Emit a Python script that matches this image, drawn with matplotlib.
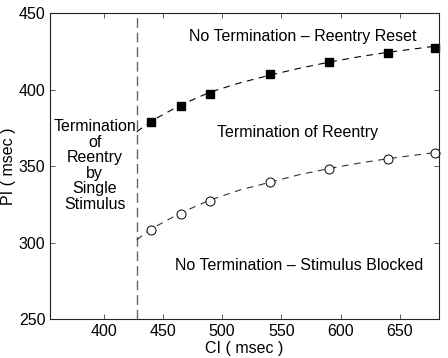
import numpy as np
import matplotlib.pyplot as plt

plt.rcParams['font.family'] = ['Liberation Sans', 'DejaVu Sans']

# measured points
ci = [440, 465, 490, 540, 590, 640, 680]
pi_reset = [379, 389.5, 397.5, 410, 418, 424, 427.5]
pi_blocked = [308.5, 319, 327.5, 340, 348.5, 355, 358.5]

# dashed fit curves
fit_ci = [428, 440, 465, 490, 515, 540, 565, 590, 615, 640, 665, 685]
fit_reset = [372.5, 379.5, 390, 398.5, 404.5, 409.5, 414, 418, 421.5, 424.5, 427, 429]
fit_blocked = [302, 309, 319.5, 328, 334.5, 339.5, 344.5, 348.5, 352, 355, 357.5, 359.5]

ci_threshold = 428

fig = plt.figure(figsize=(4.48, 3.58), dpi=100)
ax = fig.add_axes([0.112, 0.108, 0.868, 0.855])

ax.axvline(ci_threshold, color='#666666', ls=(0, (7, 3.5)), lw=1)
ax.plot(fit_ci, fit_reset, color='black', ls=(0, (6, 5)), lw=0.8)
ax.plot(fit_ci, fit_blocked, color='#333333', ls=(0, (6, 5)), lw=0.8)
ax.plot(ci, pi_reset, 's', color='black', ms=5.3, clip_on=False)
ax.plot(ci, pi_blocked, 'o', mfc='white', mec='black', mew=0.7, ms=6.5, clip_on=False)

fs = 11.5
ax.text(568, 434.5, 'No Termination \u2013 Reentry Reset', ha='center', va='center', fontsize=fs)
ax.text(564, 372, 'Termination of Reentry', ha='center', va='center', fontsize=fs)
ax.text(565, 285.5, 'No Termination \u2013 Stimulus Blocked', ha='center', va='center', fontsize=fs)
ax.text(392.5, 350.5, 'Termination\nof\nReentry\nby\nSingle\nStimulus', ha='center', va='center',
        fontsize=fs, linespacing=1.05)

ax.set_xlim(355, 683)
ax.set_ylim(250, 450)
ax.set_xticks([400, 450, 500, 550, 600, 650])
ax.set_yticks([250, 300, 350, 400, 450])
ax.tick_params(direction='in', top=True, right=True, length=3.5, labelsize=fs, width=0.6,
               color='#444444')
for s in ax.spines.values():
    s.set_linewidth(0.8)
    s.set_color('#222222')
ax.set_xlabel('CI ( msec )', fontsize=fs, labelpad=1)
ax.set_ylabel('PI ( msec )', fontsize=fs, labelpad=2)

fig.savefig('out.png', dpi=100)
